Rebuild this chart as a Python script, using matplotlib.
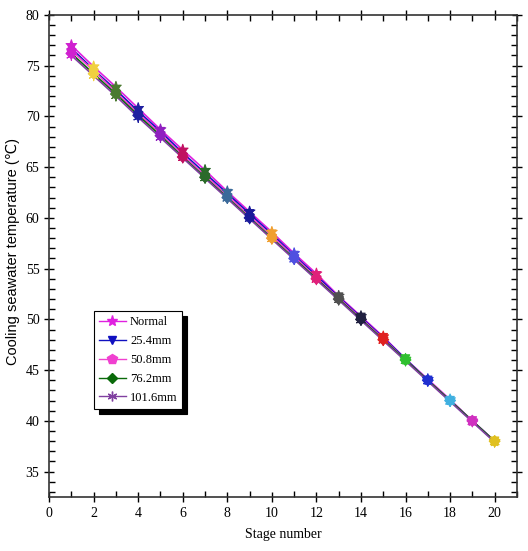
import numpy as np
import matplotlib.pyplot as plt
from matplotlib.lines import Line2D
from matplotlib.ticker import MultipleLocator

plt.rcParams['font.family'] = ['Liberation Serif', 'DejaVu Serif']
plt.rcParams['mathtext.fontset'] = 'stix'

# stage number along the condenser
stages = np.arange(1, 21)

# cooling seawater temperature (deg C) for each fouling thickness
t_normal = [77.0, 74.9, 72.9, 70.8, 68.7, 66.7, 64.7, 62.6, 60.6, 58.6,
            56.5, 54.5, 52.3, 50.3, 48.3, 46.1, 44.1, 42.1, 40.0, 38.0]
t_25_4 = [76.7, 74.6, 72.6, 70.5, 68.5, 66.4, 64.4, 62.4, 60.4, 58.4,
          56.3, 54.3, 52.2, 50.2, 48.2, 46.1, 44.0, 42.0, 40.0, 38.0]
t_50_8 = [76.5, 74.5, 72.4, 70.3, 68.3, 66.2, 64.2, 62.2, 60.2, 58.2,
          56.2, 54.1, 52.1, 50.1, 48.1, 46.0, 44.0, 42.0, 40.0, 38.0]
t_76_2 = [76.2, 74.2, 72.2, 70.1, 68.1, 66.0, 64.0, 62.0, 60.0, 58.0,
          56.0, 54.0, 52.0, 50.0, 48.0, 46.0, 44.0, 42.0, 40.0, 38.0]
t_101_6 = [76.0, 74.0, 72.0, 69.9, 67.9, 65.9, 63.9, 61.9, 59.9, 57.9,
           55.9, 53.9, 51.9, 49.9, 47.9, 45.9, 43.9, 41.9, 39.9, 37.9]

labels = ['Normal', '25.4mm', '50.8mm', '76.2mm', '101.6mm']
series = [t_normal, t_25_4, t_50_8, t_76_2, t_101_6]
colors = ['#e020e0', '#1010c0', '#f040d0', '#0a6a0a', '#8040a0']
markers = ['*', 'v', 'p', 'D', (6, 2, 0)]
msizes = [8, 6, 7, 5.5, 7]

# Origin-style per-stage marker colours
stage_colors = ['#d020d0', '#f0d040', '#4a7a30', '#2020a0', '#9020c0',
                '#c01060', '#2a6a2a', '#3a6a9a', '#1a1a9a', '#f0a030',
                '#5050e0', '#e0207a', '#505050', '#202040', '#e02020',
                '#30c030', '#2030d0', '#40b0e0', '#d030c0', '#e0c020']

fig = plt.figure(figsize=(5.28, 5.51), dpi=100)
ax = fig.add_axes([0.093, 0.098, 0.886, 0.875])

for vals, c, m, ms in zip(series, colors, markers, msizes):
    ax.plot(stages, vals, '-', color=c, lw=1.2, zorder=2)
    ax.scatter(stages, vals, marker=m, s=ms ** 2, c=stage_colors,
               edgecolors=stage_colors, linewidths=0.8, zorder=3)

handles = [Line2D([], [], color=c, marker=m, markersize=ms, lw=1.0,
                  markerfacecolor=c, markeredgecolor=c)
           for c, m, ms in zip(colors, markers, msizes)]
leg = ax.legend(handles, labels, loc='lower left', bbox_to_anchor=(0.082, 0.17),
                fontsize=9, frameon=True, fancybox=False,
                shadow={'color': 'black', 'alpha': 1.0, 'ox': 3.5, 'oy': -3.5},
                handlelength=2.2, handletextpad=0.3, labelspacing=0.55,
                borderpad=0.4, edgecolor='black')
leg.get_frame().set_linewidth(0.8)

ax.set_xlim(0, 21)
ax.set_ylim(32.5, 80)
ax.xaxis.set_major_locator(MultipleLocator(2))
ax.xaxis.set_minor_locator(MultipleLocator(1))
ax.yaxis.set_major_locator(MultipleLocator(5))
ax.yaxis.set_minor_locator(MultipleLocator(1))
ax.tick_params(which='both', top=True, right=True, labelsize=10, width=1.0)
ax.tick_params(which='major', direction='inout', length=7)
ax.tick_params(which='minor', direction='in', length=4)
for s in ax.spines.values():
    s.set_linewidth(1.2)
    s.set_color('#333333')

ax.set_xlabel('Stage number', fontsize=10, labelpad=0)
ax.set_ylabel('Cooling seawater temperature (℃)', fontsize=10.5,
              family=['Liberation Sans', 'DejaVu Sans'])
ax.xaxis.set_label_coords(0.5, -0.065)
ax.yaxis.set_label_coords(-0.062, 0.51)

fig.savefig('out.png', dpi=100)
